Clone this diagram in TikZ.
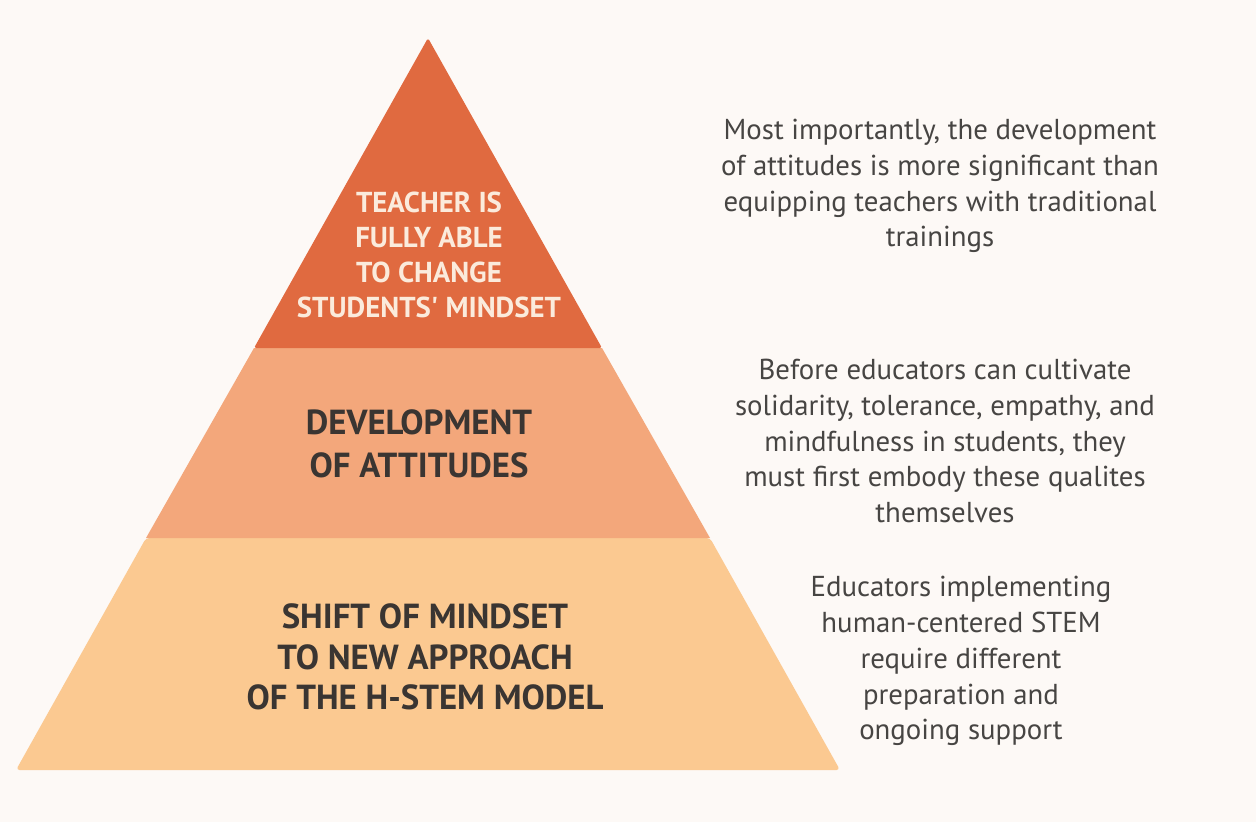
\documentclass[tikz,border=0pt]{standalone}
\usepackage{fontspec}
\setmainfont{PT Sans}
\definecolor{pagebg}{HTML}{FDF9F6}
\definecolor{tiertop}{HTML}{E06A40}
\definecolor{tiermid}{HTML}{F3A77B}
\definecolor{tierlow}{HTML}{FBC991}
\definecolor{creamtext}{HTML}{FBEBDC}
\definecolor{darktext}{HTML}{3A3532}
\definecolor{notetext}{HTML}{474543}
\begin{document}
\begin{tikzpicture}[x=0.02cm,y=-0.02cm]

    \tikzset{
      tierlabel/.style={
        font=\bfseries\fontsize{19.8}{24}\selectfont,
        text=darktext,
        align=center,
        inner sep=0pt,
      },
      note/.style={
        font=\fontsize{16.4}{20.4}\selectfont,
        text=notetext,
        align=center,
        inner sep=0pt,
      },
    }
    % page
    \fill[pagebg] (0,0) rectangle (1256,822);
    \useasboundingbox (0,0) rectangle (1256,822);
    % tiers
    \fill[tierlow, rounded corners=2pt] (146,538) -- (710,538) -- (840,770) -- (16,770) -- cycle;
    \fill[tiermid] (254,348) -- (602,348) -- (710,538) -- (146,538) -- cycle;
    \fill[tiertop, rounded corners=1pt] (428,38) -- (602,348) -- (254,348) -- cycle;
    % tier labels
    \node[tierlabel, text=creamtext, font=\bfseries\fontsize{16.4}{19.8}\selectfont] (toplabel) at (429,255) {TEACHER IS\\FULLY ABLE\\TO CHANGE\\STUDENTS\textquotesingle{} MINDSET};
    \node[tierlabel, font=\bfseries\fontsize{19.8}{24.4}\selectfont] (midlabel) at (419,444) {DEVELOPMENT\\OF ATTITUDES};
    \node[tierlabel, font=\bfseries\fontsize{19.8}{23}\selectfont] (lowlabel) at (425,657) {SHIFT OF MINDSET\\TO NEW APPROACH\\OF THE H-STEM MODEL};
    % notes
    \node[note] (topnote) at (940,186) {Most importantly, the development\\of attitudes is more significant than\\equipping teachers with traditional\\trainings};
    \node[note] (midnote) at (945,441) {Before educators can cultivate\\solidarity, tolerance, empathy, and\\mindfulness in students, they\\must first embody these qualites\\themselves};
    \node[note] (lownote) at (961,661) {Educators implementing\\human-centered STEM\\require different\\preparation and\\ongoing support};

\end{tikzpicture}
\end{document}
